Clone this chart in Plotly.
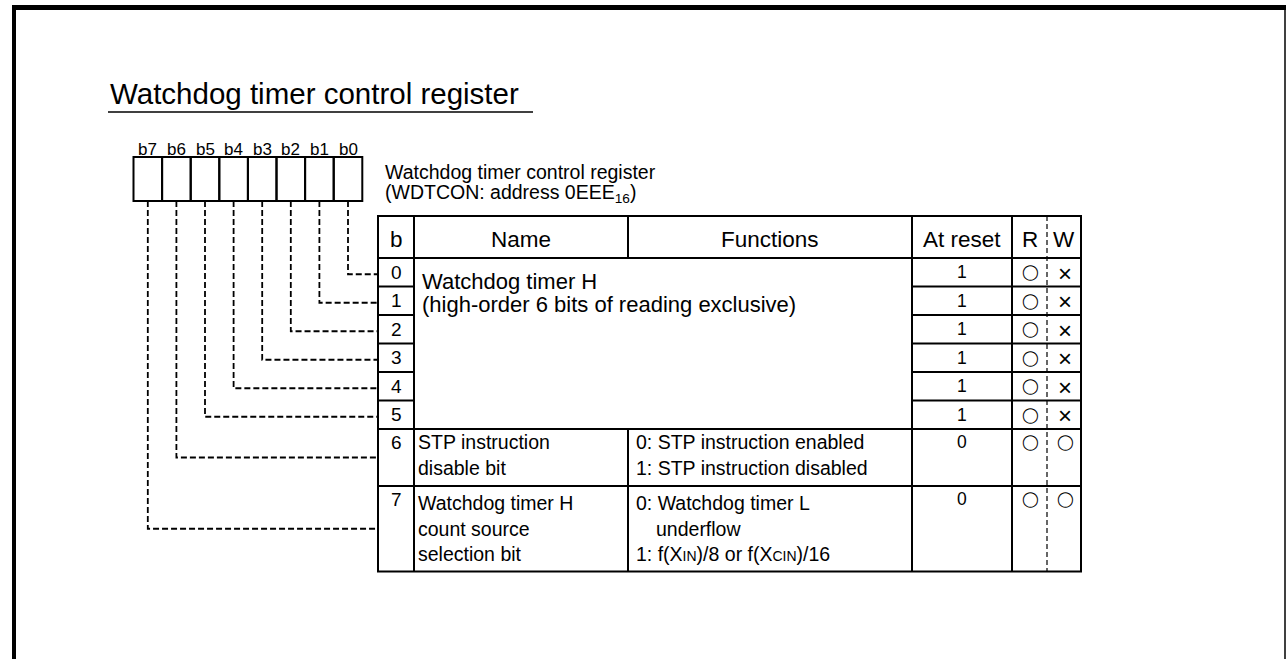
import plotly.graph_objects as go

# ---------------- data ----------------
title_text = "Watchdog timer control register"
bit_labels = ["b7", "b6", "b5", "b4", "b3", "b2", "b1", "b0"]
bit_numbers = ["0", "1", "2", "3", "4", "5", "6", "7"]
row_spans = [1, 1, 1, 1, 1, 1, 2, 3]
header_labels = ["b", "Name", "Functions", "At reset", "R", "W"]
register_label = ["Watchdog timer control register",
                  "(WDTCON: address 0EEE<sub>16</sub>)"]
merged_name = ["Watchdog timer H", "(high-order 6 bits of reading exclusive)"]
name_b6 = ["STP instruction", "disable bit"]
name_b7 = ["Watchdog timer H", "count source", "selection bit"]
func_b6 = ["0: STP instruction enabled", "1: STP instruction disabled"]
func_b7 = ["0: Watchdog timer L", "underflow",
           "1: f(X<span style='font-size:14px'>IN</span>)/8 or f(X<span style='font-size:14px'>CIN</span>)/16"]
func_b7_indent = [0, 1, 0]
at_reset = ["1", "1", "1", "1", "1", "1", "0", "0"]
read_flags = ["◯", "◯", "◯", "◯", "◯", "◯", "◯", "◯"]
write_flags = ["×", "×", "×", "×", "×", "×", "◯", "◯"]

# ---------------- geometry ----------------
W, H = 1288, 659
FONT = "Liberation Sans, Arial, DejaVu Sans, sans-serif"
SYM_FONT = "DejaVu Sans, Liberation Sans, sans-serif"
cell_left, cell_w, cell_top, cell_bot = 133.5, 28.6, 157, 201
col_x = [378, 414, 628, 912, 1012, 1047, 1081]
tbl_top, hdr_bot, unit = 216, 258, 28.5
line_gap = 25.5

shapes = []
ann = []


def line(x0, y0, x1, y1, w=2, dash=None):
    d = dict(type="line", x0=x0, y0=y0, x1=x1, y1=y1, xref="x", yref="y",
             line=dict(color="black", width=w))
    if dash:
        d["line"]["dash"] = dash
    shapes.append(d)


def text(x, y, s, size, anchor="left", ya="middle", family=FONT):
    ann.append(dict(x=x, y=y, xref="x", yref="y", text=s, showarrow=False,
                    xanchor=anchor, yanchor=ya,
                    font=dict(family=family, size=size, color="black")))


# page frame
shapes.append(dict(type="rect", x0=12, y0=5, x1=1286, y1=10, xref="x", yref="y",
                   fillcolor="black", line=dict(width=0)))
shapes.append(dict(type="rect", x0=12, y0=5, x1=16, y1=H + 5, xref="x", yref="y",
                   fillcolor="black", line=dict(width=0)))
line(1285, 5, 1285, H + 5, w=1.5)

# title
text(108, 93, title_text, 29.5)
line(108, 112, 533, 112, w=1.5)

# bit boxes and labels
n = len(bit_labels)
for i, lab in enumerate(bit_labels):
    x0 = cell_left + i * cell_w
    shapes.append(dict(type="rect", x0=x0, y0=cell_top, x1=x0 + cell_w, y1=cell_bot,
                       xref="x", yref="y", line=dict(color="black", width=2)))
    text(x0 + cell_w / 2, 149, lab, 17, anchor="center")

# register label
text(383, 172, register_label[0], 19.5)
text(383, 193, register_label[1], 19.5)

# row boundaries
row_tops = []
y = hdr_bot
for s in row_spans:
    row_tops.append(y)
    y += s * unit
tbl_bot = y

# table outline and column lines
shapes.append(dict(type="rect", x0=col_x[0], y0=tbl_top, x1=col_x[-1], y1=tbl_bot,
                   xref="x", yref="y", line=dict(color="black", width=2)))
line(col_x[0], hdr_bot, col_x[-1], hdr_bot)
line(col_x[1], tbl_top, col_x[1], tbl_bot)
line(col_x[2], tbl_top, col_x[2], hdr_bot)
line(col_x[2], row_tops[6], col_x[2], tbl_bot)
line(col_x[3], tbl_top, col_x[3], tbl_bot)
line(col_x[4], tbl_top, col_x[4], tbl_bot)
line(col_x[5], tbl_top, col_x[5], tbl_bot, w=1.2, dash="5px,3px")
for r in range(1, 6):
    yy = row_tops[r]
    line(col_x[0], yy, col_x[1], yy)
    line(col_x[3], yy, col_x[-1], yy)
line(col_x[0], row_tops[6], col_x[-1], row_tops[6])
line(col_x[0], row_tops[7], col_x[-1], row_tops[7])

# header
hy = (tbl_top + hdr_bot) / 2 + 2
for k, lab in enumerate(header_labels):
    text((col_x[k] + col_x[k + 1]) / 2, hy, lab, 22.5, anchor="center")

# rows
for r in range(8):
    top = row_tops[r]
    if r < 6:
        yc = top + unit / 2
    else:
        yc = top + 13
    text((col_x[0] + col_x[1]) / 2, yc, bit_numbers[r], 19, anchor="center")
    text((col_x[3] + col_x[4]) / 2, yc, at_reset[r], 17.5, anchor="center")
    text((col_x[4] + col_x[5]) / 2 + 1, yc, read_flags[r], 15, anchor="center",
         family=SYM_FONT)
    if write_flags[r] == "×":
        text((col_x[5] + col_x[6]) / 2 + 1, yc + 1, write_flags[r], 24, anchor="center")
    else:
        text((col_x[5] + col_x[6]) / 2 + 1, yc, write_flags[r], 15, anchor="center",
             family=SYM_FONT)

# merged name (bits 0-5)
for j, s in enumerate(merged_name):
    text(420, 281 + j * 23, s, 22)

# bit 6 / bit 7 name and function texts
for j, s in enumerate(name_b6):
    text(416, row_tops[6] + 13 + j * line_gap, s, 19.5)
for j, s in enumerate(func_b6):
    text(634, row_tops[6] + 13 + j * line_gap, s, 19.5)
for j, s in enumerate(name_b7):
    text(416, row_tops[7] + 17 + j * line_gap, s, 19.5)
for j, s in enumerate(func_b7):
    text(634 + func_b7_indent[j] * 20, row_tops[7] + 17 + j * line_gap, s, 19.5)

# dashed connectors from each bit cell to its row
for r in range(8):
    idx = n - 1 - r
    cx = cell_left + idx * cell_w + cell_w / 2
    top = row_tops[r]
    yc = top + row_spans[r] * unit / 2 + (2 if r < 6 else 0)
    shapes.append(dict(type="path", path=f"M {cx},{cell_bot} V {yc} H {col_x[0]}",
                       xref="x", yref="y",
                       line=dict(color="black", width=1.8, dash="6px,3px")))

fig = go.Figure()
fig.update_layout(
    width=W, height=H, margin=dict(l=0, r=0, t=0, b=0),
    paper_bgcolor="white", plot_bgcolor="white",
    xaxis=dict(range=[0, W], visible=False, fixedrange=True),
    yaxis=dict(range=[H, 0], visible=False, fixedrange=True),
    shapes=shapes, annotations=ann, showlegend=False,
)
fig.write_html("out.html", config={"displayModeBar": False},
               post_script="document.body.style.margin='0';document.body.style.overflow='hidden';")
